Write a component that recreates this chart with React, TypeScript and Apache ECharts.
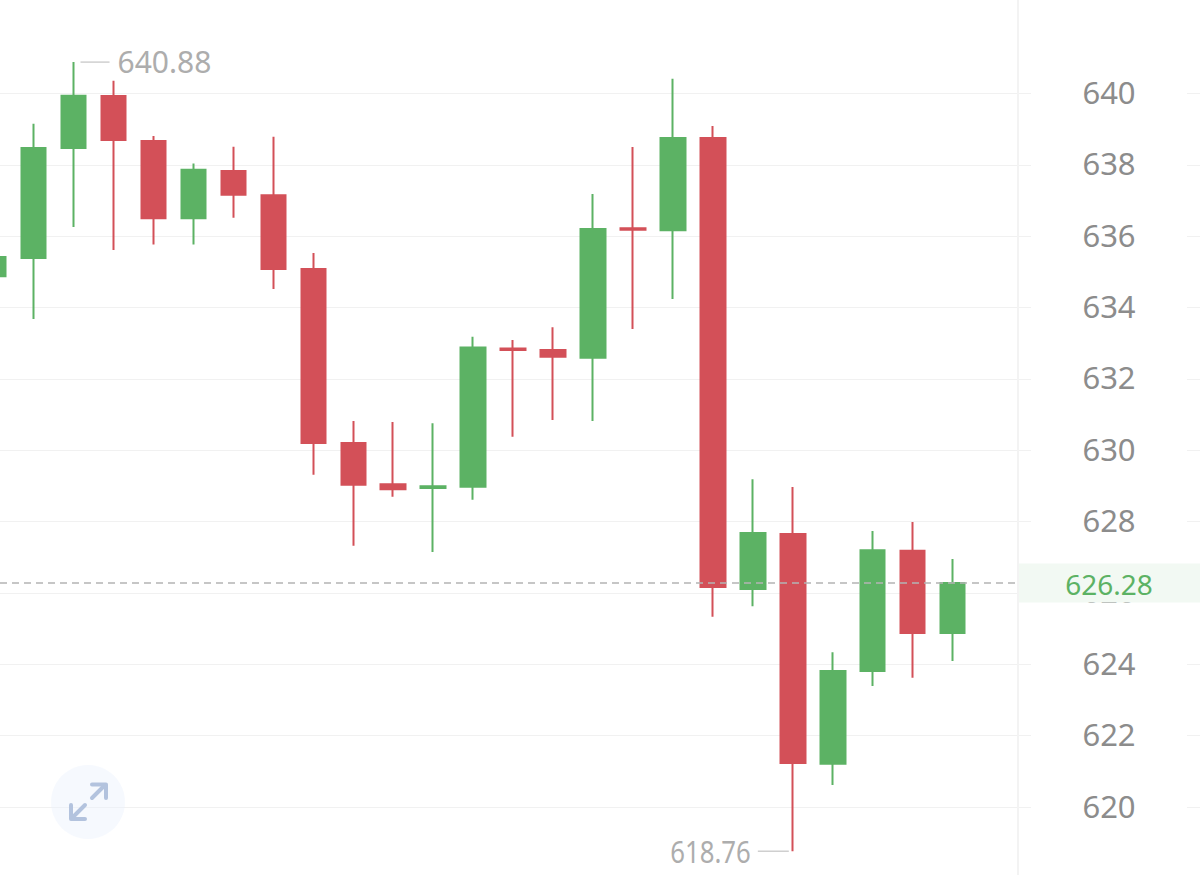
import React, { useEffect, useRef } from "react";
import * as echarts from "echarts";

const opens = [634.88, 635.39, 638.47, 639.93, 638.67, 636.5, 637.83, 637.15, 635.08, 630.2, 629.05, 628.94, 628.98, 632.85, 632.81, 632.59, 636.22, 636.17, 638.75, 626.11, 627.65, 621.21, 623.81, 627.18, 624.88];
const closes = [635.42, 638.47, 639.94, 638.7, 636.5, 637.86, 637.16, 635.08, 630.2, 629.03, 628.91, 628.99, 632.88, 632.81, 632.62, 636.2, 636.18, 638.75, 626.17, 627.68, 621.23, 623.81, 627.2, 624.88, 626.28];
const lows = [634.7, 633.68, 636.26, 635.61, 635.77, 635.77, 636.52, 634.52, 629.31, 627.32, 628.7, 627.15, 628.61, 630.38, 630.85, 630.82, 633.4, 634.24, 625.33, 625.63, 618.76, 620.62, 623.39, 623.62, 624.09];
const highs = [635.6, 639.15, 640.88, 640.36, 638.81, 638.04, 638.51, 638.79, 635.53, 630.82, 630.79, 630.76, 633.18, 633.09, 633.45, 637.18, 638.5, 640.41, 639.09, 629.19, 628.97, 624.34, 627.74, 627.99, 626.95];
const slotCount = 32;
const categories = Array.from({ length: slotCount }, (_, i) => String(i + 1));
const highLowMarks = [
  [2, 640.88, 1],
  [20, 618.76, -1],
];
const lastPrice = 626.28;

const GREEN = "#5cb264";
const RED = "#d35058";
const AXIS_TEXT = "#8c8c8c";
const MARK_TEXT = "#adadad";
const FONT = "'Noto Sans', sans-serif";

export default function App() {
  const ref = useRef<HTMLDivElement>(null);
  useEffect(() => {
    document.body.style.margin = "0";
    document.body.style.background = "#fff";
    const chart = echarts.init(ref.current!, null, { renderer: "svg" });
    chart.setOption({
      animation: false,
      backgroundColor: "#fff",
      grid: { left: -6.4, top: 22.15, width: 1238.8, height: 856.2, containLabel: false, outerBoundsMode: "none" },
      xAxis: {
        type: "category",
        data: categories,
        boundaryGap: false,
        axisLine: { show: false },
        axisTick: { show: false },
        axisLabel: { show: false },
        splitLine: { show: false },
      },
      yAxis: {
        type: "value",
        position: "right",
        min: 618,
        max: 642,
        interval: 2,
        axisLine: { show: false },
        axisTick: { show: false },
        splitLine: { show: true, showMinLine: false, showMaxLine: false, lineStyle: { color: "#f1f1f1", width: 1 } },
        axisLabel: {
          inside: true,
          margin: 123.4,
          align: "center",
          showMinLabel: false,
          showMaxLabel: false,
          hideOverlap: false,
          color: AXIS_TEXT,
          fontFamily: FONT,
          fontSize: 31,
          width: 156,
          backgroundColor: "#fff",
          rich: {
            t: { color: AXIS_TEXT, fontFamily: FONT, fontSize: 31, padding: [0, 0, 3, 0] },
          },
          formatter: (v: number) => (v === 618 || v === 642 ? "" : `{t|${v}}`),
        },
      },
      series: [
        {
          type: "candlestick",
          barWidth: 25,
          clip: true,
          data: opens.map((o, i) => [o, closes[i], lows[i], highs[i]]),
          itemStyle: { color: GREEN, color0: RED, borderColor: GREEN, borderColor0: RED, borderWidth: 2 },
        },
        {
          type: "custom",
          z: 5,
          silent: true,
          data: highLowMarks,
          renderItem: (_p: any, api: any) => {
            const [x, y] = api.coord([api.value(0), api.value(1)]);
            const up = api.value(2) > 0;
            return {
              type: "group",
              children: [
                {
                  type: "line",
                  shape: up ? { x1: x + 7, y1: y, x2: x + 36, y2: y } : { x1: x - 35, y1: y, x2: x - 4, y2: y },
                  style: { stroke: "#cfcfcf", lineWidth: 1.5 },
                },
                {
                  type: "text",
                  x: up ? x + 44 : x - 42,
                  y: up ? y - 1 : y,
                  scaleX: up ? 1 : 0.86,
                  style: {
                    text: api.value(1).toFixed(2),
                    fill: MARK_TEXT,
                    font: `30px ${FONT}`,
                    align: up ? "left" : "right",
                    verticalAlign: "middle",
                  },
                },
              ],
            };
          },
        },
        {
          type: "custom",
          z: 6,
          silent: true,
          data: [[0, lastPrice]],
          renderItem: (_p: any, api: any) => {
            const y = api.coord([0, api.value(1)])[1];
            return {
              type: "group",
              children: [
                {
                  type: "rect",
                  shape: { x: 1019, y: y - 19.5, width: 181, height: 39 },
                  style: { fill: "#f2f9f3" },
                },
                {
                  type: "line",
                  shape: { x1: 0, y1: y, x2: 1015, y2: y },
                  style: { stroke: "#b4b4b4", lineWidth: 1.5, lineDash: [7, 5] },
                },
                {
                  type: "text",
                  x: 1109,
                  y: y + 1,
                  style: {
                    text: api.value(1).toFixed(2),
                    fill: GREEN,
                    font: `28px ${FONT}`,
                    align: "center",
                    verticalAlign: "middle",
                  },
                },
              ],
            };
          },
        },
      ],
      graphic: [
        {
          type: "line",
          z: 3,
          silent: true,
          shape: { x1: 1018, y1: 0, x2: 1018, y2: 875 },
          style: { stroke: "#f3f3f3", lineWidth: 2 },
        },
        {
          type: "circle",
          z: 3,
          silent: true,
          shape: { cx: 88, cy: 802, r: 37 },
          style: { fill: "rgba(235,241,252,0.45)" },
        },
        {
          type: "polyline",
          z: 4,
          silent: true,
          shape: { points: [[92, 798], [105, 785]] },
          style: { stroke: "#b3c3de", lineWidth: 4, lineCap: "round", fill: "none" },
        },
        {
          type: "polyline",
          z: 4,
          silent: true,
          shape: { points: [[92, 784.5], [106, 784.5], [106, 798]] },
          style: { stroke: "#b3c3de", lineWidth: 4, lineCap: "round", lineJoin: "round", fill: "none" },
        },
        {
          type: "polyline",
          z: 4,
          silent: true,
          shape: { points: [[85, 805], [72, 818]] },
          style: { stroke: "#b3c3de", lineWidth: 4, lineCap: "round", fill: "none" },
        },
        {
          type: "polyline",
          z: 4,
          silent: true,
          shape: { points: [[71, 805], [71, 819], [85, 819]] },
          style: { stroke: "#b3c3de", lineWidth: 4, lineCap: "round", lineJoin: "round", fill: "none" },
        },
      ],
    });
    return () => chart.dispose();
  }, []);
  return <div ref={ref} style={{ width: 1200, height: 875 }} />;
}
